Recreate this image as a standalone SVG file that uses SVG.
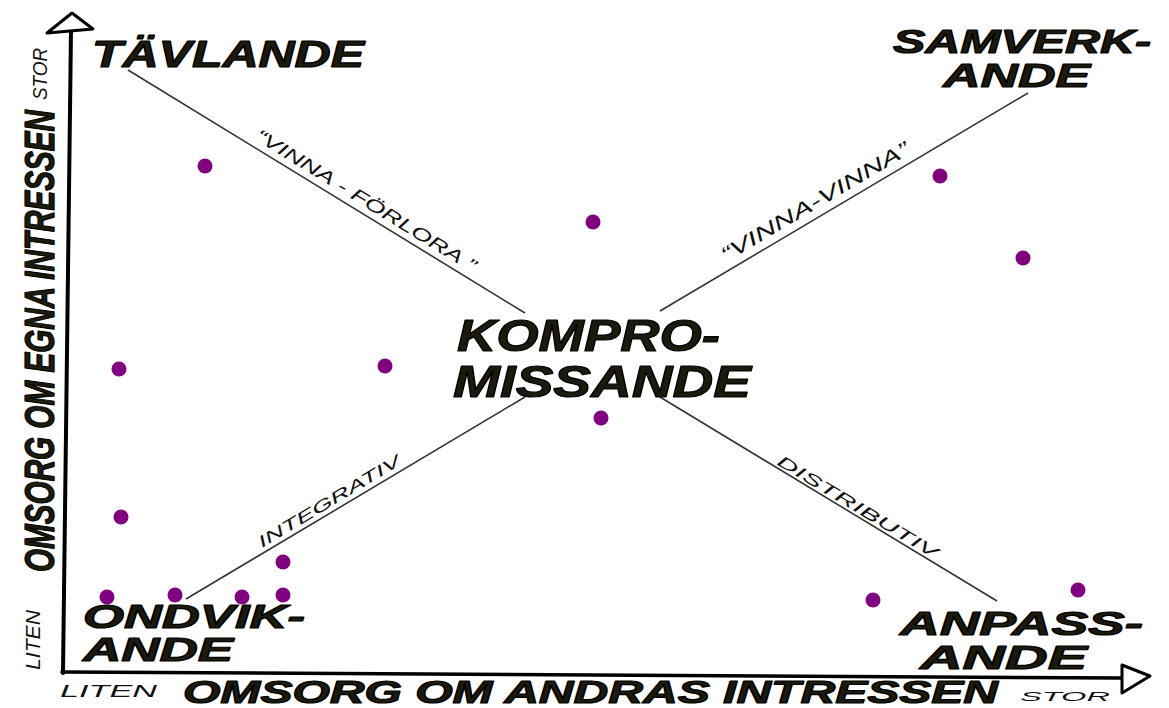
<svg xmlns="http://www.w3.org/2000/svg" width="1169" height="708" viewBox="0 0 1169 708">
<style>
.big{font-family:"Liberation Sans",Arial,sans-serif;font-weight:bold;font-style:italic;fill:#1c1a0c;stroke:#000;stroke-width:1.2;stroke-linejoin:round}
.lbl{font-family:"Liberation Sans",Arial,sans-serif;font-style:italic;fill:#111}
.ax{font-family:"Liberation Sans",Arial,sans-serif;font-style:italic;fill:#111}
.diag{stroke:#333;stroke-width:1.6;fill:none}
.axis{stroke:#000;fill:none;stroke-linecap:round}
.dot{fill:#800080}
</style>
<rect width="1169" height="708" fill="#fff"/>
<g id="connectors">
<line class="diag" x1="128" y1="70" x2="525" y2="313"/>
<line class="diag" x1="1028" y1="93" x2="660" y2="311"/>
<line class="diag" x1="525" y1="397" x2="186" y2="599"/>
<line class="diag" x1="660" y1="397" x2="997" y2="601"/>
</g>
<g id="axes">
<line class="axis" x1="71" y1="30" x2="63" y2="673" stroke-width="4"/>
<polygon points="72,13 47,33 93,29" fill="#fff" stroke="#000" stroke-width="3" stroke-linejoin="round"/>
<line class="axis" x1="62" y1="672" x2="1122" y2="678" stroke-width="3.5"/>
<polygon points="1122,665 1122,693 1150,676" fill="#fff" stroke="#000" stroke-width="3" stroke-linejoin="round"/>
<text class="big" transform="translate(54,572) rotate(-90)" font-size="42" textLength="462" lengthAdjust="spacingAndGlyphs">OMSORG OM EGNA INTRESSEN</text>
<text class="ax" transform="translate(47,100) rotate(-90)" font-size="20" textLength="52" lengthAdjust="spacingAndGlyphs">STOR</text>
<text class="ax" transform="translate(40,670) rotate(-90)" font-size="20" textLength="60" lengthAdjust="spacingAndGlyphs">LITEN</text>
<text class="big" x="183" y="703" font-size="32" textLength="815" lengthAdjust="spacingAndGlyphs">OMSORG OM ANDRAS INTRESSEN</text>
<text class="ax" x="60" y="697" font-size="16" textLength="97" lengthAdjust="spacingAndGlyphs">LITEN</text>
<text class="ax" x="1020" y="701" font-size="12" textLength="90" lengthAdjust="spacingAndGlyphs">STOR</text>
</g>
<g id="node-tavlande">
<text class="big" x="92" y="67" font-size="36" textLength="272" lengthAdjust="spacingAndGlyphs">TÄVLANDE</text>
</g>
<g id="node-samverkande">
<text class="big" x="893" y="53" font-size="34" textLength="258" lengthAdjust="spacingAndGlyphs">SAMVERK-</text>
<text class="big" x="943" y="87" font-size="34" textLength="147" lengthAdjust="spacingAndGlyphs">ANDE</text>
</g>
<g id="node-kompromissande">
<text class="big" x="457" y="351" font-size="45" textLength="263" lengthAdjust="spacingAndGlyphs">KOMPRO-</text>
<text class="big" x="453" y="397" font-size="45" textLength="298" lengthAdjust="spacingAndGlyphs">MISSANDE</text>
</g>
<g id="node-undvikande">
<text class="big" x="83" y="628" font-size="33" textLength="222" lengthAdjust="spacingAndGlyphs">ONDVIK-</text>
<text class="big" x="83" y="661" font-size="33" textLength="150" lengthAdjust="spacingAndGlyphs">ANDE</text>
</g>
<g id="node-anpassande">
<text class="big" x="900" y="635" font-size="34" textLength="243" lengthAdjust="spacingAndGlyphs">ANPASS-</text>
<text class="big" x="920" y="669" font-size="34" textLength="167" lengthAdjust="spacingAndGlyphs">ANDE</text>
</g>
<g id="edge-labels">
<text class="lbl" transform="translate(254,139) rotate(31.5)" font-size="18" textLength="255" lengthAdjust="spacingAndGlyphs">“VINNA - FÖRLORA ”</text>
<text class="lbl" transform="translate(726,262) rotate(-30.5)" font-size="20" textLength="215" lengthAdjust="spacingAndGlyphs">“VINNA-VINNA”</text>
<text class="lbl" transform="translate(262,548) rotate(-31)" font-size="16" textLength="163" lengthAdjust="spacingAndGlyphs" font-style="normal">INTEGRATIV</text>
<text class="lbl" transform="translate(776,464) rotate(31)" font-size="16" textLength="184" lengthAdjust="spacingAndGlyphs">DISTRIBUTIV</text>
</g>
<g id="dots">
<circle class="dot" cx="205" cy="166" r="7.5"/>
<circle class="dot" cx="593" cy="222" r="7.5"/>
<circle class="dot" cx="940" cy="176" r="7.5"/>
<circle class="dot" cx="1023" cy="258" r="7.5"/>
<circle class="dot" cx="119" cy="369" r="7.5"/>
<circle class="dot" cx="385" cy="366" r="7.5"/>
<circle class="dot" cx="601" cy="418" r="7.5"/>
<circle class="dot" cx="121" cy="517" r="7.5"/>
<circle class="dot" cx="283" cy="562" r="7.5"/>
<circle class="dot" cx="107" cy="597" r="7.5"/>
<circle class="dot" cx="175" cy="595" r="7.5"/>
<circle class="dot" cx="242" cy="597" r="7.5"/>
<circle class="dot" cx="283" cy="595" r="7.5"/>
<circle class="dot" cx="873" cy="600" r="7.5"/>
<circle class="dot" cx="1078" cy="590" r="7.5"/>
</g>
</svg>
